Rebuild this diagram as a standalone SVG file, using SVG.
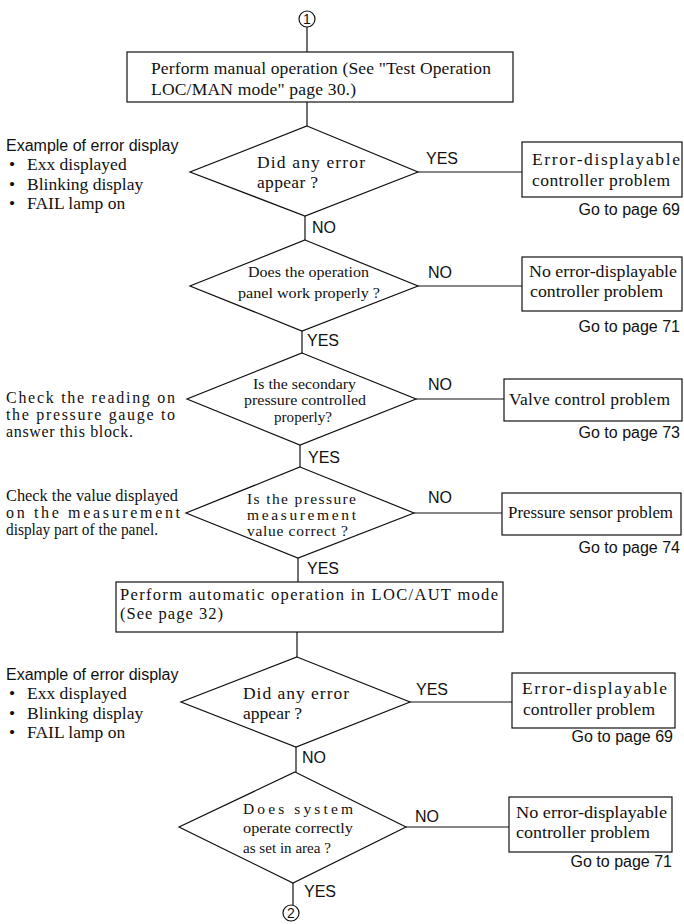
<svg xmlns="http://www.w3.org/2000/svg" width="684" height="924" viewBox="0 0 684 924">
<style>
.ln{stroke:#111;stroke-width:1.2;fill:none}
.bx{stroke:#111;stroke-width:1.2;fill:#fff}
.sr{font-family:"Liberation Serif","Times New Roman",serif;font-size:17.5px;fill:#111}
.sb{font-family:"Liberation Serif","Times New Roman",serif;font-size:16.5px;fill:#111}
.sd{font-family:"Liberation Serif","Times New Roman",serif;font-size:15.5px;fill:#111}
.sn{font-family:"Liberation Serif","Times New Roman",serif;font-size:16px;fill:#111}
.ss{font-family:"Liberation Sans",Arial,sans-serif;font-size:16px;fill:#111}
.cn{font-family:"Liberation Sans",Arial,sans-serif;font-size:14px;fill:#111;text-anchor:middle}
</style>
<rect width="684" height="924" fill="#fff"/>
<g id="connectors">
<line class="ln" x1="307" y1="27" x2="307" y2="52"/>
<line class="ln" x1="307" y1="102" x2="307" y2="126"/>
<line class="ln" x1="418" y1="172" x2="522" y2="172"/>
<line class="ln" x1="305" y1="216" x2="305" y2="240"/>
<line class="ln" x1="418" y1="286" x2="522" y2="286"/>
<line class="ln" x1="302" y1="331" x2="302" y2="353"/>
<line class="ln" x1="416" y1="399" x2="504" y2="399"/>
<line class="ln" x1="300" y1="445" x2="300" y2="467"/>
<line class="ln" x1="414" y1="513" x2="502" y2="513"/>
<line class="ln" x1="298" y1="558" x2="298" y2="582"/>
<line class="ln" x1="297" y1="632" x2="297" y2="657"/>
<line class="ln" x1="410" y1="702" x2="512" y2="702"/>
<line class="ln" x1="296" y1="747" x2="296" y2="772"/>
<line class="ln" x1="406" y1="827" x2="509" y2="827"/>
<line class="ln" x1="293" y1="883" x2="293" y2="905"/>
<text class="ss" x="426" y="164">YES</text>
<text class="ss" x="312" y="233">NO</text>
<text class="ss" x="428" y="278">NO</text>
<text class="ss" x="307" y="346">YES</text>
<text class="ss" x="428" y="390">NO</text>
<text class="ss" x="308" y="463">YES</text>
<text class="ss" x="428" y="503">NO</text>
<text class="ss" x="307" y="574">YES</text>
<text class="ss" x="416" y="695">YES</text>
<text class="ss" x="302" y="763">NO</text>
<text class="ss" x="415" y="822">NO</text>
<text class="ss" x="304" y="897">YES</text>
</g>
<g id="start1">
<circle class="bx" cx="307" cy="19" r="8"/>
<text class="cn" x="307" y="24">1</text>
</g>
<g id="manual-op">
<rect class="bx" x="127" y="52" width="386" height="50"/>
<text class="sr" x="151" y="74" textLength="340" lengthAdjust="spacing">Perform manual operation (See "Test Operation</text>
<text class="sr" x="151" y="95" textLength="205" lengthAdjust="spacing">LOC/MAN mode" page 30.)</text>
</g>
<g id="note1">
<text class="ss" x="6" y="151">Example of error display</text>
<text class="sr" y="170"><tspan x="9">•</tspan><tspan x="27">Exx displayed</tspan></text>
<text class="sr" y="190"><tspan x="9">•</tspan><tspan x="27">Blinking display</tspan></text>
<text class="sr" y="209"><tspan x="9">•</tspan><tspan x="27">FAIL lamp on</tspan></text>
</g>
<g id="q-error1">
<polygon class="bx" points="307,126 418,172 305,216 190,172"/>
<text class="sr" x="257" y="168" textLength="108" lengthAdjust="spacing">Did any error</text>
<text class="sr" x="257" y="188" textLength="61" lengthAdjust="spacing">appear ?</text>
</g>
<g id="r-error1">
<rect class="bx" x="522" y="142" width="160" height="55"/>
<text class="sr" x="532" y="165" textLength="148" lengthAdjust="spacing">Error-displayable</text>
<text class="sr" x="532" y="186" textLength="138" lengthAdjust="spacing">controller problem</text>
<text class="ss" x="680" y="215" text-anchor="end">Go to page 69</text>
</g>
<g id="q-panel">
<polygon class="bx" points="305,240 418,286 302,331 190,286"/>
<text class="sd" x="248" y="277" textLength="121" lengthAdjust="spacingAndGlyphs">Does the operation</text>
<text class="sd" x="238" y="298" textLength="142" lengthAdjust="spacingAndGlyphs">panel work properly ?</text>
</g>
<g id="r-noerror1">
<rect class="bx" x="522" y="257" width="160" height="54"/>
<text class="sr" x="529" y="277" textLength="148" lengthAdjust="spacingAndGlyphs">No error-displayable</text>
<text class="sr" x="530" y="297" textLength="133" lengthAdjust="spacingAndGlyphs">controller problem</text>
<text class="ss" x="680" y="332" text-anchor="end">Go to page 71</text>
</g>
<g id="note3">
<text class="sn" x="6" y="403" textLength="169" lengthAdjust="spacing">Check the reading on</text>
<text class="sn" x="6" y="420" textLength="169" lengthAdjust="spacing">the pressure gauge to</text>
<text class="sn" x="6" y="437" textLength="127" lengthAdjust="spacing">answer this block.</text>
</g>
<g id="q-secondary">
<polygon class="bx" points="302,353 416,399 300,445 187,399"/>
<text class="sd" x="253" y="389" textLength="103" lengthAdjust="spacingAndGlyphs">Is the secondary</text>
<text class="sd" x="244" y="405" textLength="122" lengthAdjust="spacingAndGlyphs">pressure controlled</text>
<text class="sd" x="274" y="422" textLength="58" lengthAdjust="spacingAndGlyphs">properly?</text>
</g>
<g id="r-valve">
<rect class="bx" x="504" y="379" width="178" height="42"/>
<text class="sr" x="509" y="405" textLength="161" lengthAdjust="spacing">Valve control problem</text>
<text class="ss" x="680" y="438" text-anchor="end">Go to page 73</text>
</g>
<g id="note4">
<text class="sn" x="6" y="501" textLength="172" lengthAdjust="spacingAndGlyphs">Check the value displayed</text>
<text class="sn" x="6" y="518" textLength="174" lengthAdjust="spacing">on the measurement</text>
<text class="sn" x="6" y="535" textLength="152" lengthAdjust="spacingAndGlyphs">display part of the panel.</text>
</g>
<g id="q-measure">
<polygon class="bx" points="300,467 414,513 298,558 186,513"/>
<text class="sd" x="247" y="504" textLength="109" lengthAdjust="spacing">Is the pressure</text>
<text class="sd" x="247" y="520" textLength="109" lengthAdjust="spacing">measurement</text>
<text class="sd" x="247" y="536" textLength="101" lengthAdjust="spacing">value correct ?</text>
</g>
<g id="r-sensor">
<rect class="bx" x="502" y="493" width="179" height="42"/>
<text class="sr" x="508" y="518" textLength="165" lengthAdjust="spacingAndGlyphs">Pressure sensor problem</text>
<text class="ss" x="680" y="553" text-anchor="end">Go to page 74</text>
</g>
<g id="auto-op">
<rect class="bx" x="116" y="582" width="387" height="50"/>
<text class="sb" x="120" y="600" textLength="378" lengthAdjust="spacing">Perform automatic operation in LOC/AUT mode</text>
<text class="sb" x="120" y="619" textLength="103" lengthAdjust="spacing">(See page 32)</text>
</g>
<g id="note2">
<text class="ss" x="6" y="680">Example of error display</text>
<text class="sr" y="699"><tspan x="9">•</tspan><tspan x="27">Exx displayed</tspan></text>
<text class="sr" y="719"><tspan x="9">•</tspan><tspan x="27">Blinking display</tspan></text>
<text class="sr" y="738"><tspan x="9">•</tspan><tspan x="27">FAIL lamp on</tspan></text>
</g>
<g id="q-error2">
<polygon class="bx" points="297,657 410,702 296,747 181,702"/>
<text class="sr" x="243" y="699" textLength="106" lengthAdjust="spacing">Did any error</text>
<text class="sr" x="243" y="719" textLength="59" lengthAdjust="spacing">appear ?</text>
</g>
<g id="r-error2">
<rect class="bx" x="512" y="673" width="163" height="55"/>
<text class="sr" x="522" y="694" textLength="145" lengthAdjust="spacing">Error-displayable</text>
<text class="sr" x="523" y="715" textLength="132" lengthAdjust="spacing">controller problem</text>
<text class="ss" x="673" y="742" text-anchor="end">Go to page 69</text>
</g>
<g id="q-system">
<polygon class="bx" points="295,772 406,827 293,883 179,827"/>
<text class="sd" x="243" y="814" textLength="110" lengthAdjust="spacing">Does system</text>
<text class="sd" x="243" y="833" textLength="110" lengthAdjust="spacingAndGlyphs">operate correctly</text>
<text class="sd" x="243" y="853" textLength="88" lengthAdjust="spacingAndGlyphs">as set in area ?</text>
</g>
<g id="r-noerror2">
<rect class="bx" x="509" y="797" width="163" height="55"/>
<text class="sr" x="516" y="818" textLength="151" lengthAdjust="spacingAndGlyphs">No error-displayable</text>
<text class="sr" x="516" y="838" textLength="134" lengthAdjust="spacingAndGlyphs">controller problem</text>
<text class="ss" x="672" y="867" text-anchor="end">Go to page 71</text>
</g>
<g id="end2">
<circle class="bx" cx="291" cy="913" r="8"/>
<text class="cn" x="291" y="918">2</text>
</g>
</svg>
